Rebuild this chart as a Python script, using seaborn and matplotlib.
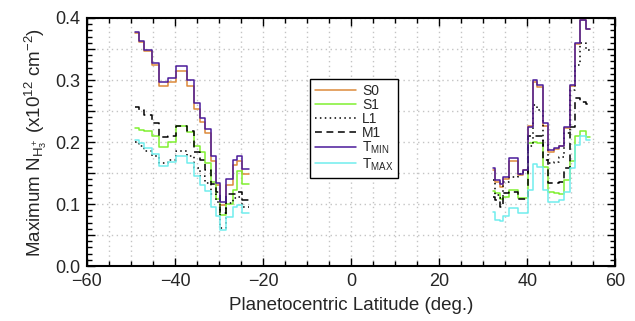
import numpy as np
import pandas as pd
import matplotlib
matplotlib.use('Agg')
import matplotlib.pyplot as plt
import seaborn as sns
from matplotlib.ticker import MultipleLocator, FuncFormatter

# bin edges of the latitude steps (deg.)
south_edges = [-49.2, -48.3, -47.0, -45.3, -43.6, -41.7, -39.8, -37.2, -35.7, -34.3,
               -33.2, -31.9, -30.8, -29.8, -28.4, -26.9, -26.0, -24.8, -23.3]
north_edges = [32.2, 32.6, 33.7, 34.6, 35.8, 37.8, 39.0, 40.1, 41.3, 42.3,
               43.5, 44.6, 46.0, 47.1, 48.4, 49.6, 50.9, 52.0, 53.3, 54.2]

# maximum H3+ column density per bin (x10^12 cm^-2), southern hemisphere
s0_south = [0.375, 0.361, 0.346, 0.325, 0.291, 0.296, 0.315, 0.291, 0.254, 0.232,
            0.214, 0.170, 0.131, 0.098, 0.130, 0.163, 0.169, 0.148]
s1_south = [0.223, 0.219, 0.217, 0.209, 0.192, 0.200, 0.226, 0.216, 0.194, 0.184,
            0.167, 0.136, 0.108, 0.082, 0.100, 0.123, 0.153, 0.133]
l1_south = [0.200, 0.194, 0.186, 0.177, 0.167, 0.171, 0.186, 0.177, 0.158, 0.145,
            0.134, 0.117, 0.104, 0.061, 0.102, 0.109, 0.112, 0.096]
m1_south = [0.257, 0.252, 0.244, 0.230, 0.208, 0.209, 0.226, 0.217, 0.184, 0.171,
            0.155, 0.133, 0.120, 0.085, 0.117, 0.117, 0.120, 0.106]
tmin_south = [0.378, 0.363, 0.348, 0.328, 0.296, 0.303, 0.322, 0.300, 0.263, 0.238,
              0.221, 0.178, 0.134, 0.104, 0.140, 0.171, 0.178, 0.156]
tmax_south = [0.204, 0.198, 0.190, 0.180, 0.162, 0.168, 0.178, 0.166, 0.146, 0.131,
              0.121, 0.096, 0.080, 0.058, 0.079, 0.095, 0.098, 0.086]

# northern hemisphere
s0_north = [0.155, 0.135, 0.128, 0.140, 0.169, 0.147, 0.155, 0.226, 0.296, 0.289,
            0.226, 0.184, 0.188, 0.193, 0.222, 0.291, 0.358, 0.397, 0.382]
s1_north = [0.121, 0.118, 0.108, 0.112, 0.123, 0.109, 0.109, 0.198, 0.200, 0.198,
            0.160, 0.119, 0.118, 0.117, 0.139, 0.169, 0.209, 0.218, 0.208]
l1_north = [0.139, 0.115, 0.109, 0.136, 0.144, 0.149, 0.151, 0.193, 0.260, 0.252,
            0.195, 0.166, 0.168, 0.176, 0.214, 0.284, 0.324, 0.359, 0.348]
m1_north = [0.112, 0.107, 0.096, 0.118, 0.120, 0.108, 0.108, 0.209, 0.209, 0.209,
            0.171, 0.134, 0.134, 0.136, 0.158, 0.225, 0.271, 0.265, 0.261]
tmin_north = [0.158, 0.139, 0.132, 0.144, 0.174, 0.148, 0.155, 0.224, 0.300, 0.292,
              0.230, 0.187, 0.191, 0.194, 0.224, 0.292, 0.359, 0.396, 0.382]
tmax_north = [0.088, 0.074, 0.072, 0.080, 0.093, 0.085, 0.085, 0.123, 0.164, 0.160,
              0.123, 0.104, 0.104, 0.107, 0.120, 0.158, 0.195, 0.209, 0.204]

labels = ['S0', 'S1', 'L1', 'M1', r'T$_{\rm MIN}$', r'T$_{\rm MAX}$']
south = [s0_south, s1_south, l1_south, m1_south, tmin_south, tmax_south]
north = [s0_north, s1_north, l1_north, m1_north, tmin_north, tmax_north]

colors = ['#dd8a3a', '#80f030', 'black', 'black', '#4a1a9a', '#70eeee']
styles = ['-', '-', (0, (1, 2.2)), (0, (4.5, 3)), '-', '-']

sns.set_style('white')
plt.rcParams['font.family'] = ['Liberation Sans', 'DejaVu Sans']
plt.rcParams['mathtext.fontset'] = 'custom'
plt.rcParams['mathtext.rm'] = 'Liberation Sans'
plt.rcParams['mathtext.it'] = 'Liberation Sans:italic'

fig = plt.figure(figsize=(6.35, 3.21), dpi=100)
ax = fig.add_axes([0.137, 0.171, 0.832, 0.773])


def step_frame(edges, values):
    # steps-post needs the last value repeated at the closing edge
    return pd.DataFrame({'lat': edges, 'val': list(values) + [values[-1]]})


for lab, s_vals, n_vals, col, ls in zip(labels, south, north, colors, styles):
    for i, (edges, vals) in enumerate([(south_edges, s_vals), (north_edges, n_vals)]):
        df = step_frame(edges, vals)
        sns.lineplot(data=df, x='lat', y='val', ax=ax, drawstyle='steps-post',
                     color=col, linestyle=ls, linewidth=1.1,
                     label=lab if i == 0 else None, legend=False)

ax.set_xlim(-60, 60)
ax.set_ylim(0, 0.4)

# ticks on all four sides, pointing in
ax.xaxis.set_major_locator(MultipleLocator(20))
ax.xaxis.set_minor_locator(MultipleLocator(5))
ax.yaxis.set_major_locator(MultipleLocator(0.05))
ax.yaxis.set_minor_locator(MultipleLocator(0.01))
ax.yaxis.set_major_formatter(FuncFormatter(
    lambda v, p: f'{v:.1f}' if abs(v * 10 - round(v * 10)) < 1e-6 else ''))
ax.tick_params(which='both', direction='in', top=True, right=True,
               bottom=True, left=True, width=1.0, labelsize=13, color='black')
ax.tick_params(which='major', length=6, pad=5)
ax.tick_params(which='minor', length=3.5)

ax.grid(True, which='major', axis='y', color='#c4c4c4', linestyle=(0, (1, 2.5)), linewidth=1.0)
ax.grid(True, which='both', axis='x', color='#c4c4c4', linestyle=(0, (1, 2.5)), linewidth=1.0)
ax.set_axisbelow(True)

for sp in ax.spines.values():
    sp.set_color('black')
    sp.set_linewidth(1.5)

ax.set_xlabel('Planetocentric Latitude (deg.)', fontsize=13.5, labelpad=5)
ax.set_ylabel(r'Maximum N$_{\rm H_3^+}$ (x10$^{12}$ cm$^{-2}$)', fontsize=13.5, labelpad=4)

leg = ax.legend(loc='upper left', bbox_to_anchor=(0.422, 0.754), fontsize=10,
                frameon=True, fancybox=False, edgecolor='black', framealpha=1,
                handlelength=3.0, handletextpad=0.4, labelspacing=0.0,
                borderpad=0.35, borderaxespad=0)
leg.get_frame().set_linewidth(1.0)

fig.savefig('out.png', dpi=100)
